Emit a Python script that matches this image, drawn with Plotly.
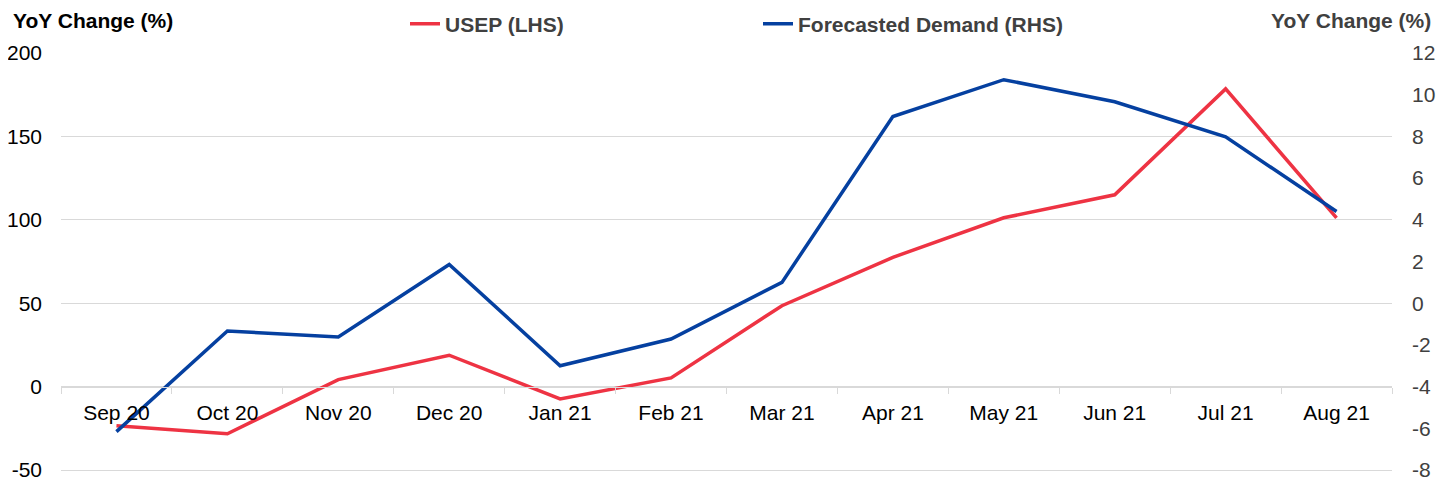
import plotly.graph_objects as go

months = ["Sep 20", "Oct 20", "Nov 20", "Dec 20", "Jan 21", "Feb 21",
          "Mar 21", "Apr 21", "May 21", "Jun 21", "Jul 21", "Aug 21"]
usep = [-23.4, -28.3, 4.2, 18.8, -7.4, 5.2, 48.5, 77.5, 101.2, 115.0, 178.5, 101.2]
demand = [-6.16, -1.33, -1.62, 1.86, -3.0, -1.72, 1.0, 8.95, 10.72, 9.66, 7.98, 4.4]

left_ticks = [-50, 0, 50, 100, 150, 200]
right_ticks = [-8, -6, -4, -2, 0, 2, 4, 6, 8, 10, 12]

RED = "#EE3343"
BLUE = "#0540A0"
FONT = "Liberation Sans, Arial, sans-serif"

# The page body adds an 8px offset, so the figure is sized to fit the window
W, H = 1436, 479
PL, PR, PT, PB = 53, 1384, 45, 465   # plot area in figure pixels
PW, PH = PR - PL, PB - PT

PX_L = 417 / 250   # pixels per left-axis unit
PX_R = 417 / 20    # pixels per right-axis unit
EXTRA = PB - 462   # extra pixels below the -50 gridline
YL = [-50 - EXTRA / PX_L, 200.0]
YR = [-8 - EXTRA / PX_R, 12.0]

fig = go.Figure()
fig.add_trace(go.Scatter(x=months, y=usep, name="USEP (LHS)", mode="lines",
                         line=dict(color=RED, width=3.5), yaxis="y"))
fig.add_trace(go.Scatter(x=months, y=demand, name="Forecasted Demand (RHS)", mode="lines",
                         line=dict(color=BLUE, width=3.5), yaxis="y2"))

fig.update_layout(
    width=W, height=H,
    margin=dict(l=PL, r=W - PR, t=PT, b=H - PB, autoexpand=False),
    paper_bgcolor="white", plot_bgcolor="white",
    font=dict(family=FONT, size=21, color="#000000"),
    showlegend=True,
    legend=dict(orientation="h", x=(397 - PL) / PW, xanchor="left",
                y=1 + (PT - 16) / PH, yanchor="middle",
                font=dict(size=21, color="#404040", family=FONT, weight="bold"),
                entrywidth=308, entrywidthmode="pixels",
                bgcolor="rgba(0,0,0,0)"),
    xaxis=dict(type="category", anchor="free",
               position=(0 - YL[0]) / (YL[1] - YL[0]),
               showgrid=False, showline=True, linecolor="#d9d9d9", linewidth=1,
               tickson="boundaries", ticks="outside", ticklen=6, tickcolor="#d9d9d9",
               ticklabelstandoff=7,
               tickfont=dict(size=21, color="#000000"), zeroline=False,
               range=[-0.5, 11.5]),
    yaxis=dict(range=YL, tickvals=left_ticks,
               ticktext=[str(v) for v in left_ticks], showgrid=True,
               gridcolor="#d9d9d9", gridwidth=1, zeroline=False, showline=False,
               ticks="", ticklabelstandoff=18,
               tickfont=dict(size=21, color="#000000")),
    yaxis2=dict(range=YR, tickvals=right_ticks,
                ticktext=[str(v) for v in right_ticks], overlaying="y", side="right",
                showgrid=False, zeroline=False, showline=False, ticks="",
                ticklabelstandoff=19,
                tickfont=dict(size=21, color="#404040")),
    annotations=[
        dict(text="<b>YoY Change (%)</b>", xref="paper", yref="paper",
             x=(3 - PL) / PW, y=1 + (PT - 12) / PH, xanchor="left", yanchor="middle",
             showarrow=False, font=dict(size=21, color="#000000", family=FONT)),
        dict(text="<b>YoY Change (%)</b>", xref="paper", yref="paper",
             x=(1425 - PL) / PW, y=1 + (PT - 12) / PH, xanchor="right",
             yanchor="middle", showarrow=False,
             font=dict(size=21, color="#404040", family=FONT)),
    ],
)

fig.write_html("out.html")
